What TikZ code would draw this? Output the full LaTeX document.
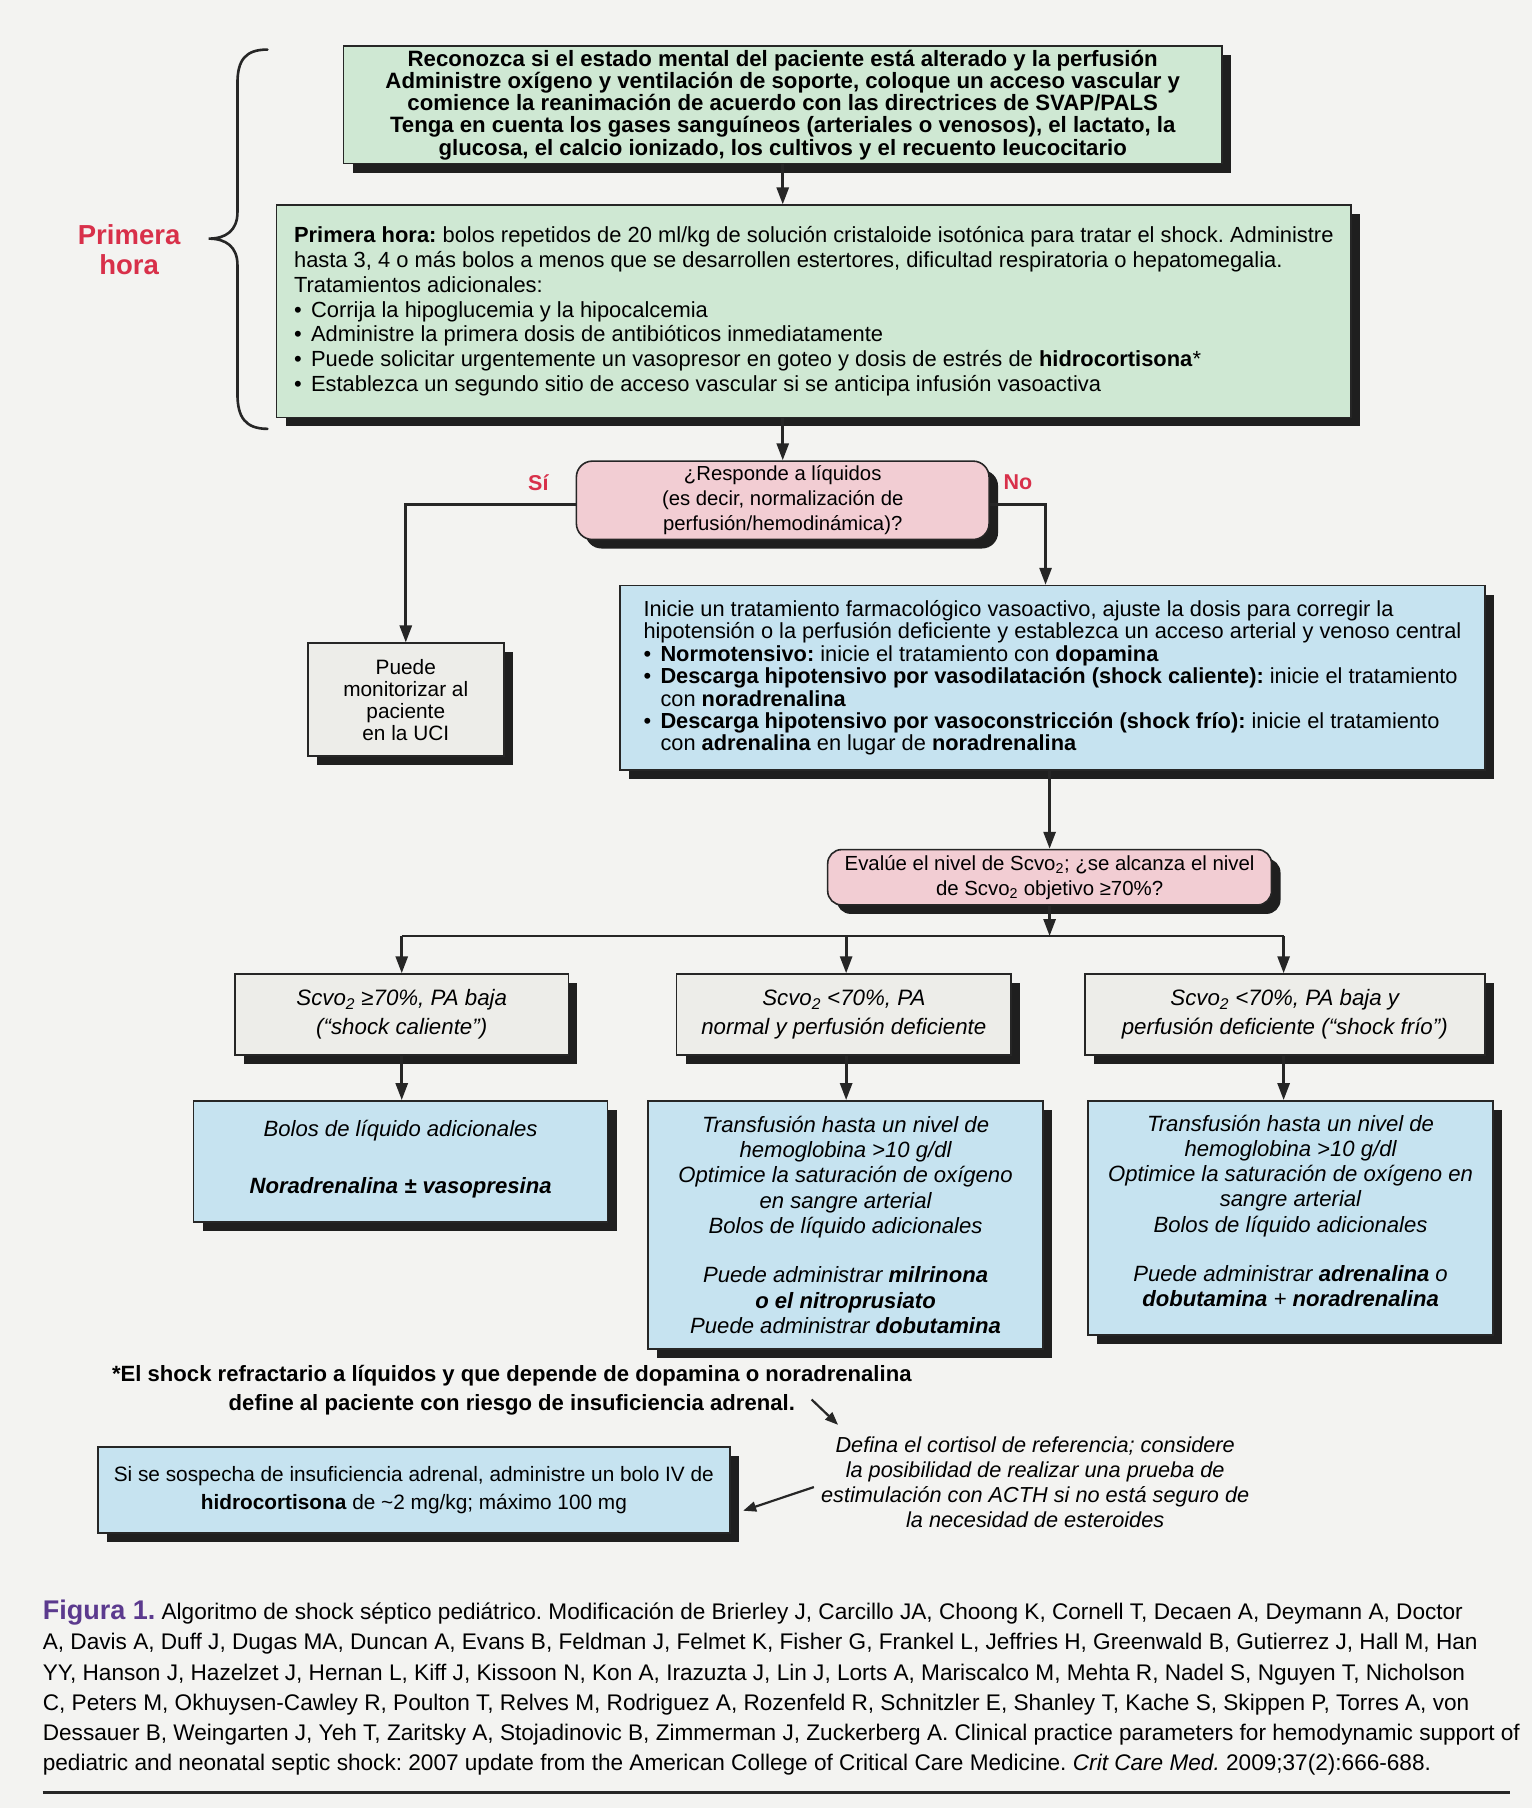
\documentclass[tikz,border=0pt]{standalone}
\usepackage{fontspec}
\setmainfont{Liberation Sans}
\usetikzlibrary{shadows,arrows.meta,calc}
\definecolor{bgc}{HTML}{F3F3F1}
\definecolor{greenc}{HTML}{CFE8D3}
\definecolor{bluec}{HTML}{C6E3F0}
\definecolor{pinkc}{HTML}{F2CDD3}
\definecolor{grayc}{HTML}{EDEDE9}
\definecolor{shadowc}{HTML}{1F1F1F}
\definecolor{linec}{HTML}{262626}
\definecolor{redc}{HTML}{D8304A}
\definecolor{purplec}{HTML}{5B3A8E}
\newcommand\bul{\makebox[17pt][l]{•}}
\newcommand\bulsp{\hspace*{17pt}}
\frenchspacing
\tikzset{
  sz/.style 2 args={minimum width=#1*1.1528pt, minimum height=#2*1.1528pt},
  boxbase/.style={draw=linec, line width=1.6pt, inner sep=0pt, text=black,
    drop shadow={shadow xshift=9pt, shadow yshift=-9pt, fill=shadowc, opacity=1}},
  greenbox/.style={boxbase, fill=greenc},
  bluebox/.style={boxbase, fill=bluec},
  graybox/.style={boxbase, fill=grayc},
  pinkbox/.style={boxbase, fill=pinkc, rounded corners=16pt},
  arr/.style={draw=linec, line width=2.8pt, -{Triangle[length=17pt,width=12pt]}},
  arrsmall/.style={draw=linec, line width=2.2pt, -{Triangle[length=13pt,width=10pt]}},
  plainline/.style={draw=linec, line width=2.8pt},
  redlabel/.style={text=redc, font=\bfseries\fontsize{21.5}{30}\selectfont, align=center, inner sep=0pt},
}
\begin{document}
\begin{tikzpicture}[x=1.1528pt,y=-1.1528pt]
\fill[bgc] (0,0) rectangle (1329,1568.4);
\useasboundingbox (0,0) rectangle (1329,1568.4);

% brace
\draw[draw=linec, line width=2.6pt, line cap=round]
  (232,43) .. controls (213,43) and (206,52) .. (206,72)
  -- (206,184) .. controls (206,200) and (196,207) .. (181,207)
  .. controls (196,207) and (206,214) .. (206,230)
  -- (206,342) .. controls (206,362) and (213,372) .. (232,372);
\node[redlabel, font=\bfseries\fontsize{27.5}{30}\selectfont] (ph) at (112,217) {Primera\\hora};

\node[greenbox, sz={762}{102}, align=center,
  font=\bfseries\fontsize{22.2}{22.3}\selectfont] (b1) at (679,91)
{Reconozca si el estado mental del paciente está alterado y la perfusión\\
Administre oxígeno y ventilación de soporte, coloque un acceso vascular y\\
comience la reanimación de acuerdo con las directrices de SVAP/PALS\\
Tenga en cuenta los gases sanguíneos (arteriales o venosos), el lactato, la\\
glucosa, el calcio ionizado, los cultivos y el recuento leucocitario};

\node[greenbox, sz={932}{184}, align=left,
  font=\fontsize{21.9}{24.8}\selectfont] (b2) at (706,270)
{\textbf{Primera hora:} bolos repetidos de 20 ml/kg de solución cristaloide isotónica para tratar el shock. Administre\\
hasta 3, 4 o más bolos a menos que se desarrollen estertores, dificultad respiratoria o hepatomegalia.\\
Tratamientos adicionales:\\
\bul Corrija la hipoglucemia y la hipocalcemia\\
\bul Administre la primera dosis de antibióticos inmediatamente\\
\bul Puede solicitar urgentemente un vasopresor en goteo y dosis de estrés de \textbf{hidrocortisona}*\\
\bul Establezca un segundo sitio de acceso vascular si se anticipa infusión vasoactiva};

\node[pinkbox, sz={358}{68}, align=center,
  font=\fontsize{20.3}{25}\selectfont] (d1) at (679,434)
{¿Responde a líquidos\\(es decir, normalización de\\perfusión/hemodinámica)?};

\node[redlabel] (si) at (467,419) {Sí};
\node[redlabel] (no) at (883,418) {No};

\node[graybox, sz={170}{98}, align=center,
  font=\fontsize{20.8}{22}\selectfont] (uci) at (352,607)
{Puede\\monitorizar al\\paciente\\en la UCI};

\node[bluebox, sz={750}{160}, align=left,
  font=\fontsize{21.8}{22.4}\selectfont] (b3) at (913,588)
{Inicie un tratamiento farmacológico vasoactivo, ajuste la dosis para corregir la\\
hipotensión o la perfusión deficiente y establezca un acceso arterial y venoso central\\
\bul\textbf{Normotensivo:} inicie el tratamiento con \textbf{dopamina}\\
\bul\textbf{Descarga hipotensivo por vasodilatación (shock caliente):} inicie el tratamiento\\
\bulsp con \textbf{noradrenalina}\\
\bul\textbf{Descarga hipotensivo por vasoconstricción (shock frío):} inicie el tratamiento\\
\bulsp con \textbf{adrenalina} en lugar de \textbf{noradrenalina}};

\node[pinkbox, sz={385}{48}, rounded corners=14pt, align=center,
  font=\fontsize{20.4}{25}\selectfont] (d2) at (910.5,761)
{Evalúe el nivel de Scvo\textsubscript{2}; ¿se alcanza el nivel\\
de Scvo\textsubscript{2} objetivo ≥70\%?};

\node[graybox, sz={289}{70}, align=center,
  font=\itshape\fontsize{22.3}{29}\selectfont] (g1) at (348.5,880)
{Scvo\textsubscript{2} ≥70\%, PA baja\\(“shock caliente”)};
\node[graybox, sz={290}{70}, align=center,
  font=\itshape\fontsize{22.3}{29}\selectfont] (g2) at (732,880)
{Scvo\textsubscript{2} <70\%, PA\\normal y perfusión deficiente};
\node[graybox, sz={347}{70}, align=center,
  font=\itshape\fontsize{22.3}{29}\selectfont] (g3) at (1114.5,880)
{Scvo\textsubscript{2} <70\%, PA baja y\\perfusión deficiente (“shock frío”)};

\node[bluebox, sz={359}{105}, align=center,
  font=\itshape\fontsize{22.1}{25.3}\selectfont] (c1) at (347.5,1007.5)
{Bolos de líquido adicionales\\[32pt]
\textbf{Noradrenalina ± vasopresina}\\[-16pt]\mbox{}};
\node[bluebox, sz={343}{215}, align=center,
  font=\itshape\fontsize{22.1}{25.3}\selectfont] (c2) at (733.5,1062.5)
{Transfusión hasta un nivel de\\
hemoglobina >10 g/dl\\
Optimice la saturación de oxígeno\\
en sangre arterial\\
Bolos de líquido adicionales\\[24pt]
Puede administrar \textbf{milrinona}\\
\textbf{o el nitroprusiato}\\
Puede administrar \textbf{dobutamina}};
\node[bluebox, sz={351}{203}, align=center,
  font=\itshape\fontsize{22.1}{25.3}\selectfont] (c3) at (1119.5,1056.5)
{Transfusión hasta un nivel de\\
hemoglobina >10 g/dl\\
Optimice la saturación de oxígeno en\\
sangre arterial\\
Bolos de líquido adicionales\\[24pt]
Puede administrar \textbf{adrenalina} o\\
\textbf{dobutamina} + \textbf{noradrenalina}\\[-11pt]\mbox{}};

\node[align=center, inner sep=0pt, font=\bfseries\fontsize{22.1}{28.5}\selectfont] (foot) at (444,1206)
{*El shock refractario a líquidos y que depende de dopamina o noradrenalina\\
define al paciente con riesgo de insuficiencia adrenal.};

\node[align=center, inner sep=0pt, font=\itshape\fontsize{21.7}{25}\selectfont] (note) at (898,1286)
{Defina el cortisol de referencia; considere\\
la posibilidad de realizar una prueba de\\
estimulación con ACTH si no está seguro de\\
la necesidad de esteroides};

\node[bluebox, sz={548}{75}, align=center,
  font=\fontsize{20.8}{28.5}\selectfont] (hb) at (359,1292.5)
{Si se sospecha de insuficiencia adrenal, administre un bolo IV de\\
\textbf{hidrocortisona} de \textasciitilde 2 mg/kg; máximo 100 mg};

% connectors
\draw[arr] (b1.south) -- (b1.south |- b2.north);
\draw[arr] (b2.south -| d1.north) -- (d1.north);
\draw[arr] ([yshift=-4pt]d1.west) -| (uci.north);
\draw[arr] ([yshift=-4pt]d1.east) -| ($(b3.north)+(-6,0)$);
\draw[arr] (d2.north |- b3.south) -- (d2.north);
\coordinate (split) at (908,812);
\draw[arr] (d2.south) -- (d2.south |- split);
\draw[plainline] (g1.north |- split) -- ($(g3.north |- split)+(-1,0)$);
\draw[arr] (g1.north |- split) -- (g1.north);
\draw[arr] ($(g2.north |- split)+(2,0)$) -- ($(g2.north)+(2,0)$);
\draw[arr] ($(g3.north |- split)+(-1,0)$) -- ($(g3.north)+(-1,0)$);
\draw[arr] (g1.south) -- (g1.south |- c1.north);
\draw[arr] ($(g2.south)+(2,0)$) -- ($(g2.south |- c2.north)+(2,0)$);
\draw[arr] ($(g3.south)+(-1,0)$) -- ($(g3.south |- c3.north)+(-1,0)$);
\coordinate (fa) at (704,1214);
\coordinate (fb) at (727,1236);
\draw[arrsmall] (fa) -- (fb);
\coordinate (na) at (706,1290);
\draw[arrsmall] (na) -- ($(hb.east)+(11,18)$);

% caption
\node[anchor=west, align=left, inner sep=0pt, font=\fontsize{22.6}{30.2}\selectfont] (cap) at (37,1464)
{{\color{purplec}\bfseries\fontsize{27}{30.2}\selectfont Figura 1.} Algoritmo de shock séptico pediátrico. Modificación de Brierley J, Carcillo JA, Choong K, Cornell T, Decaen A, Deymann A, Doctor\\
A, Davis A, Duff J, Dugas MA, Duncan A, Evans B, Feldman J, Felmet K, Fisher G, Frankel L, Jeffries H, Greenwald B, Gutierrez J, Hall M, Han\\
YY, Hanson J, Hazelzet J, Hernan L, Kiff J, Kissoon N, Kon A, Irazuzta J, Lin J, Lorts A, Mariscalco M, Mehta R, Nadel S, Nguyen T, Nicholson\\
C, Peters M, Okhuysen-Cawley R, Poulton T, Relves M, Rodriguez A, Rozenfeld R, Schnitzler E, Shanley T, Kache S, Skippen P, Torres A, von\\
Dessauer B, Weingarten J, Yeh T, Zaritsky A, Stojadinovic B, Zimmerman J, Zuckerberg A. Clinical practice parameters for hemodynamic support of\\
pediatric and neonatal septic shock: 2007 update from the American College of Critical Care Medicine. \textit{Crit Care Med.} 2009;37(2):666-688.};
\draw[draw=linec, line width=2.2pt] (37,1555) -- (1310,1555);
\end{tikzpicture}
\end{document}
